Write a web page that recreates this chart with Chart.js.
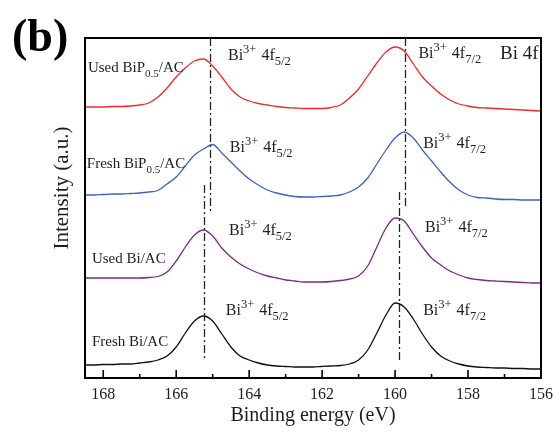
<!DOCTYPE html>
<html>
<head>
<meta charset="utf-8">
<script src="https://cdn.jsdelivr.net/npm/chart.js@4"></script>
<style>
  html, body { margin: 0; padding: 0; background: #fff; }
  #wrap { width: 560px; height: 434px; }
</style>
</head>
<body>
<div id="wrap"><canvas id="xps" width="560" height="434"></canvas></div>
<script>
// Bi 4f region, binding energy in eV (high to low)
const energy = [168.5, 168.25, 168, 167.75, 167.5, 167.25, 167, 166.75, 166.5, 166.25, 166, 165.75, 165.5, 165.25, 165,
  164.75, 164.5, 164.25, 164, 163.75, 163.5, 163.25, 163, 162.75, 162.5, 162.25, 162, 161.75, 161.5, 161.25, 161,
  160.75, 160.5, 160.25, 160, 159.75, 159.5, 159.25, 159, 158.75, 158.5, 158.25, 158, 157.75, 157.5, 157.25, 157,
  156.75, 156.5, 156.25, 156];

// stacked spectra (a.u., offset per sample)
const usedBiP = [271, 271, 271, 271.5, 271.5, 272, 273, 275, 281, 290, 301, 310, 317, 319, 312, 301, 289, 281, 277, 274.5,
  273, 271.5, 270.5, 270, 269.5, 269.5, 269.5, 270.5, 273, 280, 289, 302, 315, 326, 331, 327, 314, 301, 292, 284,
  278, 274, 272, 270.5, 270, 269.5, 269, 268.5, 268, 267.5, 267];
const freshBiP = [183, 183, 183.5, 184, 184, 184.5, 185, 186, 187.5, 194, 201, 212, 223, 229, 233.5, 225, 216, 207, 199, 193,
  188, 185, 183, 181.5, 181, 181, 181.5, 182, 183, 186, 191, 200, 214, 228, 240, 246, 240, 228, 217, 206,
  196, 188, 183, 180.5, 180, 179, 178.5, 178.5, 178, 178, 178];
const usedBi = [100, 100, 100, 100, 100, 100, 100, 100.5, 101.5, 106, 117, 131, 143, 148, 142, 130, 121, 114, 109, 105,
  102, 100, 98, 97, 96, 96, 96, 96.5, 97.5, 99, 102, 112, 131, 150, 160, 157, 144, 131, 120, 113,
  107, 103, 100, 98.5, 97.5, 97, 96.5, 96, 95.5, 95, 95];
const freshBi = [13, 13, 13.5, 13.5, 14, 14, 15, 16, 18, 22, 31, 45, 57, 62, 57, 44, 31, 22, 18, 15,
  13, 12, 11.5, 11, 11, 11, 11.5, 12, 12.5, 14, 18, 28, 45, 63, 75, 71, 59, 44, 31, 22,
  17, 14, 12, 11, 10.5, 10, 10, 9.5, 9.5, 9, 9];

const tickLabels = [168, 166, 164, 162, 160, 158, 156];

// dash-dot peak markers: energy, intensity from, intensity to
const markEnergy = [165.08, 165.23, 159.74, 159.9];
const markFrom = [340, 193, 340, 186];
const markTo = [166, 20, 170, 16];

const serif = '"Liberation Serif", "Times New Roman", serif';
const ink = '#1e1e1e';

const pts = vals => energy.map((e, i) => ({ x: e, y: vals[i] }));

// text runs: [text, mode, font size, extra gap after]
const sub = (t, size = 11) => [t, 'sub', size];
const bi = (level) => [['Bi', '', 16], ['3+', 'sup', 12.5, 5], ['4f', '', 16], sub(level, 12.5)];

// text notes, anchored in data units (energy, intensity)
const notes = [
  { e: 168.42, v: 306, parts: [['Used BiP', '', 15], sub('0.5'), ['/AC', '', 15]] },
  { e: 164.58, v: 318, parts: bi('5/2') },
  { e: 159.36, v: 320, parts: bi('7/2') },
  { e: 168.45, v: 210, parts: [['Fresh BiP', '', 15], sub('0.5'), ['/AC', '', 15]] },
  { e: 164.53, v: 226, parts: bi('5/2') },
  { e: 159.23, v: 230, parts: bi('7/2') },
  { e: 168.31, v: 115, parts: [['Used Bi/AC', '', 15]] },
  { e: 164.55, v: 143, parts: bi('5/2') },
  { e: 159.18, v: 146, parts: bi('7/2') },
  { e: 168.31, v: 32, parts: [['Fresh Bi/AC', '', 15]] },
  { e: 164.64, v: 63, parts: bi('5/2') },
  { e: 159.23, v: 63, parts: bi('7/2') }
];

function drawRich(ctx, x, y, parts) {
  parts.forEach(([text, mode, size, gap = 0]) => {
    const dy = mode === 'sup' ? -7 : mode === 'sub' ? 5 : 0;
    ctx.font = size + 'px ' + serif;
    ctx.fillText(text, x, y + dy);
    x += ctx.measureText(text).width + gap;
  });
}

const decor = {
  id: 'decor',
  afterDraw(chart) {
    const { ctx, chartArea: a, scales: { x, y } } = chart;
    ctx.save();

    // peak position markers
    ctx.strokeStyle = '#222';
    ctx.lineWidth = 1.3;
    ctx.setLineDash([8, 3, 2, 3]);
    markEnergy.forEach((e, i) => {
      const px = Math.round(x.getPixelForValue(e)) + 0.5;
      ctx.beginPath();
      ctx.moveTo(px, y.getPixelForValue(markFrom[i]));
      ctx.lineTo(px, y.getPixelForValue(markTo[i]));
      ctx.stroke();
    });
    ctx.setLineDash([]);

    // frame
    ctx.strokeStyle = '#000';
    ctx.lineWidth = 2;
    ctx.strokeRect(a.left, a.top, a.right - a.left, a.bottom - a.top);

    // inward ticks on the energy axis
    ctx.lineWidth = 1.6;
    x.ticks.forEach(t => {
      const px = x.getPixelForValue(t.value);
      const len = t.value % 2 === 0 ? 8 : 4;
      ctx.beginPath();
      ctx.moveTo(px, a.bottom);
      ctx.lineTo(px, a.bottom - len);
      ctx.stroke();
    });

    // annotations
    ctx.fillStyle = ink;
    ctx.textBaseline = 'alphabetic';
    ctx.textAlign = 'left';
    notes.forEach(n => drawRich(ctx, x.getPixelForValue(n.e), y.getPixelForValue(n.v), n.parts));

    ctx.font = '19px ' + serif;
    ctx.fillText('Bi 4f', 500, 59);

    ctx.font = 'bold 46px ' + serif;
    ctx.fillStyle = '#000';
    ctx.fillText('(b)', 12, 51);

    // y axis title
    ctx.translate(62, 188);
    ctx.rotate(-Math.PI / 2);
    ctx.textAlign = 'center';
    ctx.textBaseline = 'middle';
    ctx.fillStyle = ink;
    ctx.font = '21px ' + serif;
    ctx.fillText('Intensity (a.u.)', 0, 0);

    ctx.restore();
  }
};

const line = (data, color) => ({
  data: pts(data),
  borderColor: color,
  borderWidth: 1.3,
  pointRadius: 0,
  cubicInterpolationMode: 'monotone',
  fill: false
});

new Chart(document.getElementById('xps'), {
  type: 'line',
  data: {
    datasets: [
      line(usedBiP, '#f02a2a'),
      line(freshBiP, '#3d62c6'),
      line(usedBi, '#7a2a8a'),
      line(freshBi, '#111111')
    ]
  },
  options: {
    responsive: false,
    animation: false,
    devicePixelRatio: 1,
    layout: { padding: { left: 85, right: 13, top: 38, bottom: 0 } },
    plugins: { legend: { display: false }, tooltip: { enabled: false } },
    scales: {
      x: {
        type: 'linear',
        reverse: true,
        min: 156,
        max: 168.5,
        afterFit: s => { s.height = 56; },
        border: { display: false },
        grid: { display: false, drawTicks: false },
        ticks: {
          stepSize: 1,
          includeBounds: false,
          maxRotation: 0,
          autoSkip: false,
          padding: 7,
          color: ink,
          font: { family: serif, size: 16 },
          callback: v => tickLabels.includes(v) ? String(v) : ''
        },
        title: {
          display: true,
          text: 'Binding energy (eV)',
          color: ink,
          font: { family: serif, size: 20 },
          padding: { top: 0, bottom: 6 }
        }
      },
      y: {
        display: false,
        min: 0,
        max: 340
      }
    }
  },
  plugins: [decor]
});
</script>
</body>
</html>
